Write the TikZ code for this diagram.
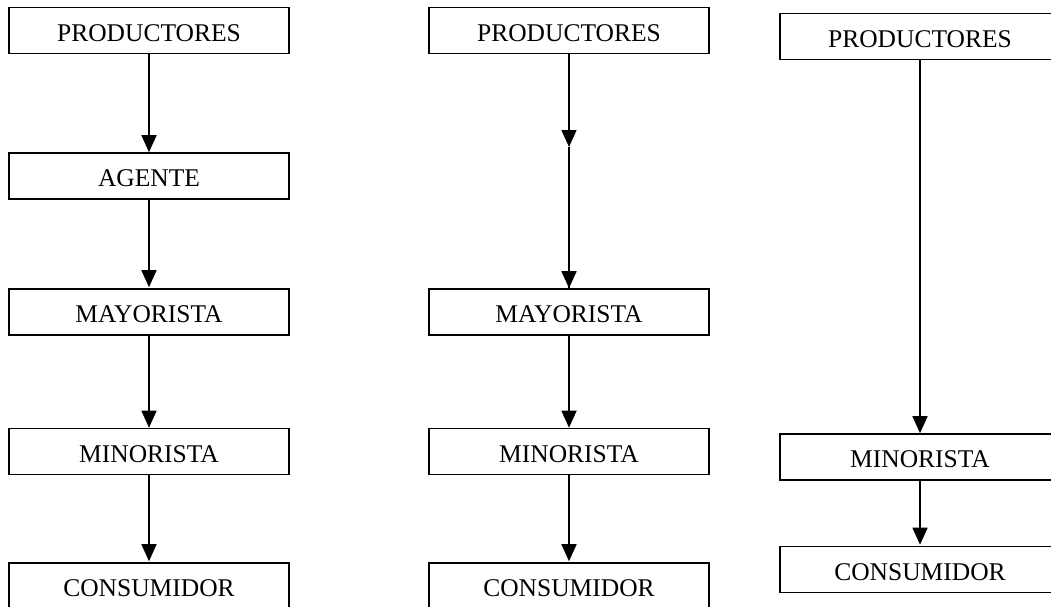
\documentclass[tikz,border=0pt]{standalone}
\usepackage{fontspec}
\setmainfont{Liberation Serif}
\usetikzlibrary{arrows.meta}
\begin{document}
\begin{tikzpicture}[x=1pt,y=-1pt,
  box/.style={draw, line width=1.6pt, minimum width=280pt, minimum height=46pt, inner sep=0pt,
    font=\fontsize{25.5}{30}\selectfont, text depth=0pt, text height=21pt},
  conn/.style={line width=1.6pt, -{Triangle[length=17pt,width=15pt]}},
  plain/.style={line width=1.6pt}]
\useasboundingbox (0,0) rectangle (1051,606);
% column 1
\node[box] (p1) at (149,30.5) {PRODUCTORES};
\node[box] (a1) at (149,176) {AGENTE};
\node[box] (m1) at (149,312) {MAYORISTA};
\node[box] (n1) at (149,451.5) {MINORISTA};
\node[box] (c1) at (149,586) {CONSUMIDOR};
\draw[conn] (p1) -- (a1);
\draw[conn] (a1) -- ([yshift=1pt]m1.north);
\draw[conn] (m1) -- (n1);
\draw[conn] (n1) -- ([yshift=1pt]c1.north);
% column 2
\node[box] (p2) at (569,30.5) {PRODUCTORES};
\node[box] (m2) at (569,312) {MAYORISTA};
\node[box] (n2) at (569,451.5) {MINORISTA};
\node[box] (c2) at (569,586) {CONSUMIDOR};
\coordinate (h2) at (569,147);
\draw[conn] (p2) -- (h2);
\draw[plain] (h2) -- (m2);
\draw[conn] (h2) -- (m2);
\draw[conn] (m2) -- (n2);
\draw[conn] (n2) -- ([yshift=1pt]c2.north);
% column 3
\node[box] (p3) at (920,36.5) {PRODUCTORES};
\node[box] (n3) at (920,457) {MINORISTA};
\node[box] (c3) at (920,569.5) {CONSUMIDOR};
\draw[conn] (p3) -- (n3);
\draw[conn] (n3) -- ([yshift=1pt]c3.north);
\end{tikzpicture}
\end{document}
